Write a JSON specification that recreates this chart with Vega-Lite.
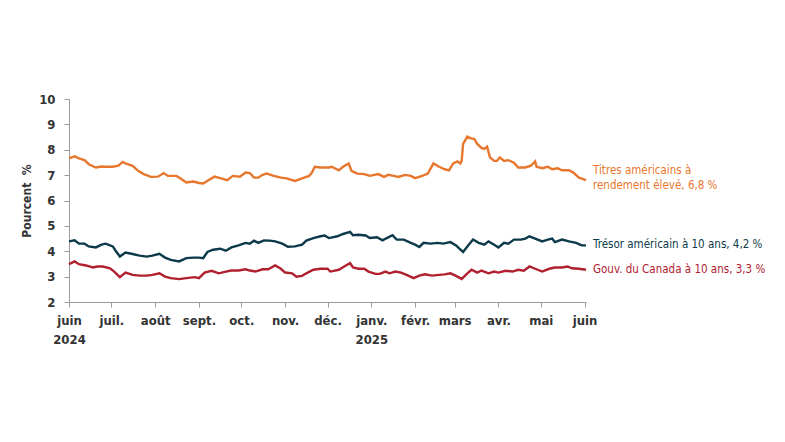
{
"$schema": "https://vega.github.io/schema/vega-lite/v6.json",
"autosize": {"type": "none"},
"width": 517, "height": 203,
"padding": {"left": 69, "top": 99, "right": 199, "bottom": 140},
"background": "white",
"config": {"view": {"stroke": null}, "font": "DejaVu Sans Condensed, Roboto, sans-serif"},
"datasets": {
"series": [
{"d":"2024-06-01","s":"hy","v":7.66},{"d":"2024-06-05","s":"hy","v":7.74},{"d":"2024-06-08","s":"hy","v":7.66},{"d":"2024-06-12","s":"hy","v":7.59},{"d":"2024-06-15","s":"hy","v":7.43},{"d":"2024-06-20","s":"hy","v":7.30},{"d":"2024-06-24","s":"hy","v":7.34},{"d":"2024-06-27","s":"hy","v":7.33},{"d":"2024-07-02","s":"hy","v":7.33},{"d":"2024-07-06","s":"hy","v":7.37},{"d":"2024-07-09","s":"hy","v":7.52},{"d":"2024-07-11","s":"hy","v":7.46},{"d":"2024-07-16","s":"hy","v":7.37},{"d":"2024-07-20","s":"hy","v":7.17},{"d":"2024-07-24","s":"hy","v":7.04},{"d":"2024-07-29","s":"hy","v":6.93},{"d":"2024-08-03","s":"hy","v":6.94},{"d":"2024-08-07","s":"hy","v":7.08},{"d":"2024-08-10","s":"hy","v":6.97},{"d":"2024-08-16","s":"hy","v":6.97},{"d":"2024-08-19","s":"hy","v":6.87},{"d":"2024-08-23","s":"hy","v":6.71},{"d":"2024-08-28","s":"hy","v":6.75},{"d":"2024-09-01","s":"hy","v":6.69},{"d":"2024-09-04","s":"hy","v":6.67},{"d":"2024-09-08","s":"hy","v":6.81},{"d":"2024-09-12","s":"hy","v":6.94},{"d":"2024-09-16","s":"hy","v":6.88},{"d":"2024-09-21","s":"hy","v":6.80},{"d":"2024-09-25","s":"hy","v":6.97},{"d":"2024-09-30","s":"hy","v":6.94},{"d":"2024-10-04","s":"hy","v":7.10},{"d":"2024-10-07","s":"hy","v":7.08},{"d":"2024-10-10","s":"hy","v":6.90},{"d":"2024-10-13","s":"hy","v":6.90},{"d":"2024-10-16","s":"hy","v":7.01},{"d":"2024-10-19","s":"hy","v":7.06},{"d":"2024-10-24","s":"hy","v":6.97},{"d":"2024-10-29","s":"hy","v":6.90},{"d":"2024-11-02","s":"hy","v":6.87},{"d":"2024-11-08","s":"hy","v":6.77},{"d":"2024-11-13","s":"hy","v":6.87},{"d":"2024-11-18","s":"hy","v":6.97},{"d":"2024-11-20","s":"hy","v":7.10},{"d":"2024-11-22","s":"hy","v":7.33},{"d":"2024-11-26","s":"hy","v":7.30},{"d":"2024-12-02","s":"hy","v":7.30},{"d":"2024-12-04","s":"hy","v":7.33},{"d":"2024-12-09","s":"hy","v":7.19},{"d":"2024-12-12","s":"hy","v":7.33},{"d":"2024-12-16","s":"hy","v":7.46},{"d":"2024-12-18","s":"hy","v":7.17},{"d":"2024-12-22","s":"hy","v":7.06},{"d":"2024-12-27","s":"hy","v":7.04},{"d":"2024-12-31","s":"hy","v":6.97},{"d":"2025-01-06","s":"hy","v":7.04},{"d":"2025-01-10","s":"hy","v":6.93},{"d":"2025-01-13","s":"hy","v":7.01},{"d":"2025-01-17","s":"hy","v":6.97},{"d":"2025-01-20","s":"hy","v":6.93},{"d":"2025-01-25","s":"hy","v":7.01},{"d":"2025-01-29","s":"hy","v":6.97},{"d":"2025-02-01","s":"hy","v":6.88},{"d":"2025-02-06","s":"hy","v":6.97},{"d":"2025-02-10","s":"hy","v":7.06},{"d":"2025-02-14","s":"hy","v":7.46},{"d":"2025-02-18","s":"hy","v":7.33},{"d":"2025-02-22","s":"hy","v":7.23},{"d":"2025-02-25","s":"hy","v":7.19},{"d":"2025-02-28","s":"hy","v":7.46},{"d":"2025-03-03","s":"hy","v":7.54},{"d":"2025-03-05","s":"hy","v":7.46},{"d":"2025-03-06","s":"hy","v":7.56},{"d":"2025-03-07","s":"hy","v":8.23},{"d":"2025-03-10","s":"hy","v":8.52},{"d":"2025-03-12","s":"hy","v":8.46},{"d":"2025-03-15","s":"hy","v":8.42},{"d":"2025-03-17","s":"hy","v":8.23},{"d":"2025-03-20","s":"hy","v":8.07},{"d":"2025-03-22","s":"hy","v":8.03},{"d":"2025-03-24","s":"hy","v":8.12},{"d":"2025-03-26","s":"hy","v":7.70},{"d":"2025-03-29","s":"hy","v":7.56},{"d":"2025-03-31","s":"hy","v":7.56},{"d":"2025-04-02","s":"hy","v":7.70},{"d":"2025-04-05","s":"hy","v":7.56},{"d":"2025-04-08","s":"hy","v":7.59},{"d":"2025-04-12","s":"hy","v":7.49},{"d":"2025-04-15","s":"hy","v":7.30},{"d":"2025-04-20","s":"hy","v":7.30},{"d":"2025-04-24","s":"hy","v":7.37},{"d":"2025-04-27","s":"hy","v":7.54},{"d":"2025-04-28","s":"hy","v":7.33},{"d":"2025-05-02","s":"hy","v":7.27},{"d":"2025-05-06","s":"hy","v":7.33},{"d":"2025-05-09","s":"hy","v":7.23},{"d":"2025-05-13","s":"hy","v":7.27},{"d":"2025-05-16","s":"hy","v":7.19},{"d":"2025-05-21","s":"hy","v":7.19},{"d":"2025-05-24","s":"hy","v":7.10},{"d":"2025-05-28","s":"hy","v":6.90},{"d":"2025-05-31","s":"hy","v":6.84},{"d":"2025-06-02","s":"hy","v":6.80},
{"d":"2024-06-01","s":"ust","v":4.39},{"d":"2024-06-05","s":"ust","v":4.43},{"d":"2024-06-08","s":"ust","v":4.30},{"d":"2024-06-12","s":"ust","v":4.30},{"d":"2024-06-15","s":"ust","v":4.19},{"d":"2024-06-20","s":"ust","v":4.15},{"d":"2024-06-24","s":"ust","v":4.26},{"d":"2024-06-27","s":"ust","v":4.30},{"d":"2024-07-02","s":"ust","v":4.19},{"d":"2024-07-04","s":"ust","v":4.02},{"d":"2024-07-07","s":"ust","v":3.79},{"d":"2024-07-11","s":"ust","v":3.95},{"d":"2024-07-16","s":"ust","v":3.89},{"d":"2024-07-21","s":"ust","v":3.83},{"d":"2024-07-26","s":"ust","v":3.79},{"d":"2024-07-30","s":"ust","v":3.83},{"d":"2024-08-04","s":"ust","v":3.90},{"d":"2024-08-08","s":"ust","v":3.75},{"d":"2024-08-12","s":"ust","v":3.66},{"d":"2024-08-18","s":"ust","v":3.60},{"d":"2024-08-23","s":"ust","v":3.73},{"d":"2024-08-28","s":"ust","v":3.75},{"d":"2024-09-01","s":"ust","v":3.75},{"d":"2024-09-04","s":"ust","v":3.73},{"d":"2024-09-07","s":"ust","v":3.97},{"d":"2024-09-11","s":"ust","v":4.06},{"d":"2024-09-16","s":"ust","v":4.10},{"d":"2024-09-20","s":"ust","v":4.02},{"d":"2024-09-24","s":"ust","v":4.15},{"d":"2024-09-29","s":"ust","v":4.23},{"d":"2024-10-04","s":"ust","v":4.33},{"d":"2024-10-07","s":"ust","v":4.30},{"d":"2024-10-10","s":"ust","v":4.42},{"d":"2024-10-13","s":"ust","v":4.33},{"d":"2024-10-17","s":"ust","v":4.43},{"d":"2024-10-21","s":"ust","v":4.42},{"d":"2024-10-25","s":"ust","v":4.39},{"d":"2024-10-30","s":"ust","v":4.30},{"d":"2024-11-03","s":"ust","v":4.18},{"d":"2024-11-08","s":"ust","v":4.19},{"d":"2024-11-13","s":"ust","v":4.26},{"d":"2024-11-16","s":"ust","v":4.42},{"d":"2024-11-21","s":"ust","v":4.52},{"d":"2024-11-26","s":"ust","v":4.59},{"d":"2024-11-29","s":"ust","v":4.62},{"d":"2024-12-02","s":"ust","v":4.52},{"d":"2024-12-08","s":"ust","v":4.59},{"d":"2024-12-12","s":"ust","v":4.68},{"d":"2024-12-17","s":"ust","v":4.76},{"d":"2024-12-19","s":"ust","v":4.63},{"d":"2024-12-23","s":"ust","v":4.65},{"d":"2024-12-28","s":"ust","v":4.62},{"d":"2024-12-31","s":"ust","v":4.52},{"d":"2025-01-05","s":"ust","v":4.55},{"d":"2025-01-09","s":"ust","v":4.43},{"d":"2025-01-12","s":"ust","v":4.52},{"d":"2025-01-16","s":"ust","v":4.63},{"d":"2025-01-19","s":"ust","v":4.46},{"d":"2025-01-24","s":"ust","v":4.46},{"d":"2025-01-29","s":"ust","v":4.33},{"d":"2025-02-01","s":"ust","v":4.26},{"d":"2025-02-04","s":"ust","v":4.17},{"d":"2025-02-07","s":"ust","v":4.33},{"d":"2025-02-12","s":"ust","v":4.30},{"d":"2025-02-17","s":"ust","v":4.33},{"d":"2025-02-21","s":"ust","v":4.30},{"d":"2025-02-26","s":"ust","v":4.36},{"d":"2025-03-02","s":"ust","v":4.23},{"d":"2025-03-04","s":"ust","v":4.12},{"d":"2025-03-07","s":"ust","v":3.97},{"d":"2025-03-10","s":"ust","v":4.19},{"d":"2025-03-14","s":"ust","v":4.46},{"d":"2025-03-18","s":"ust","v":4.33},{"d":"2025-03-22","s":"ust","v":4.26},{"d":"2025-03-25","s":"ust","v":4.39},{"d":"2025-03-29","s":"ust","v":4.26},{"d":"2025-04-01","s":"ust","v":4.15},{"d":"2025-04-05","s":"ust","v":4.33},{"d":"2025-04-08","s":"ust","v":4.30},{"d":"2025-04-12","s":"ust","v":4.46},{"d":"2025-04-17","s":"ust","v":4.46},{"d":"2025-04-20","s":"ust","v":4.50},{"d":"2025-04-23","s":"ust","v":4.59},{"d":"2025-04-27","s":"ust","v":4.50},{"d":"2025-05-02","s":"ust","v":4.39},{"d":"2025-05-06","s":"ust","v":4.46},{"d":"2025-05-09","s":"ust","v":4.50},{"d":"2025-05-11","s":"ust","v":4.36},{"d":"2025-05-16","s":"ust","v":4.46},{"d":"2025-05-21","s":"ust","v":4.39},{"d":"2025-05-26","s":"ust","v":4.33},{"d":"2025-05-30","s":"ust","v":4.23},{"d":"2025-06-02","s":"ust","v":4.23},
{"d":"2024-06-01","s":"cad","v":3.49},{"d":"2024-06-05","s":"cad","v":3.60},{"d":"2024-06-08","s":"cad","v":3.49},{"d":"2024-06-13","s":"cad","v":3.44},{"d":"2024-06-18","s":"cad","v":3.36},{"d":"2024-06-21","s":"cad","v":3.40},{"d":"2024-06-25","s":"cad","v":3.40},{"d":"2024-06-30","s":"cad","v":3.33},{"d":"2024-07-03","s":"cad","v":3.20},{"d":"2024-07-07","s":"cad","v":2.98},{"d":"2024-07-11","s":"cad","v":3.16},{"d":"2024-07-16","s":"cad","v":3.07},{"d":"2024-07-21","s":"cad","v":3.04},{"d":"2024-07-26","s":"cad","v":3.04},{"d":"2024-07-30","s":"cad","v":3.07},{"d":"2024-08-04","s":"cad","v":3.13},{"d":"2024-08-08","s":"cad","v":3.00},{"d":"2024-08-12","s":"cad","v":2.94},{"d":"2024-08-18","s":"cad","v":2.90},{"d":"2024-08-23","s":"cad","v":2.94},{"d":"2024-08-29","s":"cad","v":2.98},{"d":"2024-09-01","s":"cad","v":2.94},{"d":"2024-09-05","s":"cad","v":3.16},{"d":"2024-09-10","s":"cad","v":3.23},{"d":"2024-09-15","s":"cad","v":3.13},{"d":"2024-09-20","s":"cad","v":3.20},{"d":"2024-09-24","s":"cad","v":3.24},{"d":"2024-09-29","s":"cad","v":3.24},{"d":"2024-10-04","s":"cad","v":3.29},{"d":"2024-10-07","s":"cad","v":3.24},{"d":"2024-10-11","s":"cad","v":3.20},{"d":"2024-10-16","s":"cad","v":3.29},{"d":"2024-10-20","s":"cad","v":3.29},{"d":"2024-10-25","s":"cad","v":3.44},{"d":"2024-10-29","s":"cad","v":3.31},{"d":"2024-11-01","s":"cad","v":3.16},{"d":"2024-11-06","s":"cad","v":3.13},{"d":"2024-11-09","s":"cad","v":3.00},{"d":"2024-11-13","s":"cad","v":3.03},{"d":"2024-11-16","s":"cad","v":3.13},{"d":"2024-11-21","s":"cad","v":3.27},{"d":"2024-11-26","s":"cad","v":3.31},{"d":"2024-12-01","s":"cad","v":3.31},{"d":"2024-12-03","s":"cad","v":3.20},{"d":"2024-12-09","s":"cad","v":3.27},{"d":"2024-12-14","s":"cad","v":3.44},{"d":"2024-12-17","s":"cad","v":3.53},{"d":"2024-12-19","s":"cad","v":3.36},{"d":"2024-12-23","s":"cad","v":3.31},{"d":"2024-12-27","s":"cad","v":3.31},{"d":"2024-12-30","s":"cad","v":3.20},{"d":"2025-01-04","s":"cad","v":3.11},{"d":"2025-01-07","s":"cad","v":3.11},{"d":"2025-01-11","s":"cad","v":3.20},{"d":"2025-01-14","s":"cad","v":3.13},{"d":"2025-01-18","s":"cad","v":3.20},{"d":"2025-01-22","s":"cad","v":3.16},{"d":"2025-01-26","s":"cad","v":3.07},{"d":"2025-01-31","s":"cad","v":2.94},{"d":"2025-02-04","s":"cad","v":3.04},{"d":"2025-02-08","s":"cad","v":3.09},{"d":"2025-02-13","s":"cad","v":3.04},{"d":"2025-02-18","s":"cad","v":3.07},{"d":"2025-02-22","s":"cad","v":3.09},{"d":"2025-02-26","s":"cad","v":3.13},{"d":"2025-03-02","s":"cad","v":3.03},{"d":"2025-03-06","s":"cad","v":2.91},{"d":"2025-03-10","s":"cad","v":3.13},{"d":"2025-03-13","s":"cad","v":3.27},{"d":"2025-03-17","s":"cad","v":3.16},{"d":"2025-03-20","s":"cad","v":3.24},{"d":"2025-03-25","s":"cad","v":3.13},{"d":"2025-03-29","s":"cad","v":3.20},{"d":"2025-04-01","s":"cad","v":3.16},{"d":"2025-04-06","s":"cad","v":3.23},{"d":"2025-04-11","s":"cad","v":3.20},{"d":"2025-04-15","s":"cad","v":3.27},{"d":"2025-04-19","s":"cad","v":3.23},{"d":"2025-04-23","s":"cad","v":3.40},{"d":"2025-04-27","s":"cad","v":3.31},{"d":"2025-05-02","s":"cad","v":3.20},{"d":"2025-05-07","s":"cad","v":3.31},{"d":"2025-05-11","s":"cad","v":3.36},{"d":"2025-05-16","s":"cad","v":3.36},{"d":"2025-05-20","s":"cad","v":3.40},{"d":"2025-05-23","s":"cad","v":3.33},{"d":"2025-05-28","s":"cad","v":3.31},{"d":"2025-06-02","s":"cad","v":3.27}
],
"labels": [
{"d":"2025-06-02","s":"hy","v":6.8,"t":"Titres américains à\nrendement élevé, 6,8 %"},
{"d":"2025-06-02","s":"ust","v":4.23,"t":"Trésor américain à 10 ans, 4,2 %"},
{"d":"2025-06-02","s":"cad","v":3.27,"t":"Gouv. du Canada à 10 ans, 3,3 %"}
]
},
"encoding": {
"x": {"field": "d", "type": "temporal",
 "scale": {"type": "utc", "domain": [{"year": 2024, "month": 6, "date": 1, "utc": true}, {"year": 2025, "month": 6, "date": 2, "utc": true}], "nice": false},
 "axis": {"title": null, "grid": false, "tickCount": {"interval": "month", "step": 1}, "domainColor": "#a09a96", "tickColor": "#a09a96", "tickSize": 5,
  "labelFont": "DejaVu Sans Condensed, Roboto, sans-serif", "labelFontSize": 13, "labelFontWeight": "bold", "labelColor": "#333333", "labelPadding": 7, "labelLineHeight": 19,
  "labelOverlap": false, "labelBound": false, "labelFlush": false,
  "labelExpr": "(utcmonth(datum.value)==0 || (utcmonth(datum.value)==5 && utcyear(datum.value)==2024)) ? [['janv.','févr.','mars','avr.','mai','juin','juil.','août','sept.','oct.','nov.','déc.'][utcmonth(datum.value)], '' + utcyear(datum.value)] : ['janv.','févr.','mars','avr.','mai','juin','juil.','août','sept.','oct.','nov.','déc.'][utcmonth(datum.value)]"}},
"y": {"field": "v", "type": "quantitative",
 "scale": {"domain": [2, 10], "nice": false, "zero": false},
 "axis": {"title": "Pourcent\u00a0\u00a0%", "values": [2,3,4,5,6,7,8,9,10], "grid": false, "domainColor": "#a09a96", "tickColor": "#a09a96", "tickSize": 5,
  "labelFont": "DejaVu Sans Condensed, Roboto, sans-serif", "labelFontSize": 13, "labelFontWeight": "bold", "labelColor": "#333333", "labelPadding": 9,
  "titleFont": "DejaVu Sans Condensed, Roboto, sans-serif", "titleFontSize": 12, "titleFontWeight": "bold", "titleColor": "#333333", "titlePadding": 5}},
"color": {"field": "s", "type": "nominal", "legend": null,
 "scale": {"domain": ["hy", "ust", "cad"], "range": ["#E8772E", "#0D3A4A", "#B0202F"]}}
},
"layer": [
{"data": {"name": "series"}, "mark": {"type": "line", "strokeWidth": 2.4, "interpolate": "linear"}, "encoding": {"detail": {"field": "s"}}},
{"data": {"name": "labels"}, "transform": [{"filter": "datum.s == 'hy'"}], "mark": {"type": "text", "align": "left", "baseline": "middle", "dx": 7, "dy": -9, "font": "DejaVu Sans Condensed, Roboto, sans-serif", "fontSize": 11.5, "lineBreak": "\n", "lineHeight": 15}, "encoding": {"text": {"field": "t"}}},
{"data": {"name": "labels"}, "transform": [{"filter": "datum.s != 'hy'"}], "mark": {"type": "text", "align": "left", "baseline": "middle", "dx": 7, "dy": 0, "font": "DejaVu Sans Condensed, Roboto, sans-serif", "fontSize": 11.5}, "encoding": {"text": {"field": "t"}}}
]
}
